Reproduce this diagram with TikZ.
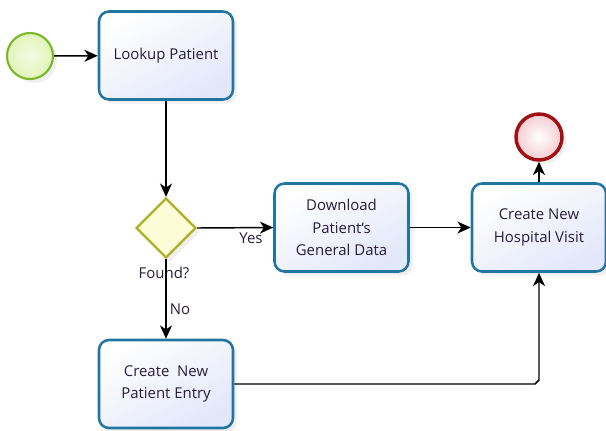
\documentclass[tikz,border=0pt]{standalone}
\usepackage{fontspec}
\setmainfont{Open Sans}
\usetikzlibrary{shapes.geometric,arrows.meta,shadows}
\definecolor{taskborder}{RGB}{32,118,160}
\definecolor{taskfill}{RGB}{226,231,250}
\definecolor{gwborder}{RGB}{176,176,40}
\definecolor{gwfill}{RGB}{252,252,214}
\definecolor{stborder}{RGB}{122,184,40}
\definecolor{stfill}{RGB}{226,244,186}
\definecolor{endborder}{RGB}{160,16,20}
\definecolor{endfill}{RGB}{244,204,208}
\definecolor{txt}{RGB}{40,28,58}
\tikzset{
  task/.style={rectangle, rounded corners=7.5pt, draw=taskborder, line width=1.9pt,
    top color=white, bottom color=taskfill, shading angle=30,
    minimum width=100.5pt, minimum height=66pt, align=center, text=txt,
    font=\fontsize{11.2}{17}\selectfont,
    drop shadow={opacity=0.12, shadow xshift=3pt, shadow yshift=-3pt}},
  gateway/.style={diamond, draw=gwborder, line width=1.7pt, fill=gwfill,
    minimum width=45pt, minimum height=45pt, inner sep=0pt,
    drop shadow={opacity=0.12, shadow xshift=3pt, shadow yshift=-3pt}},
  startev/.style={circle, draw=stborder, line width=1.6pt, inner color=stfill!40, outer color=stfill,
    minimum size=34.5pt, inner sep=0pt,
    drop shadow={opacity=0.12, shadow xshift=3pt, shadow yshift=-3pt}},
  endev/.style={circle, draw=endborder, line width=2.6pt, inner color=white, outer color=endfill,
    minimum size=34.5pt, inner sep=0pt,
    drop shadow={opacity=0.12, shadow xshift=3pt, shadow yshift=-3pt}},
  flow/.style={line width=1.1pt, -{Stealth[length=10pt,width=9pt,inset=3pt]}},
  lbl/.style={text=txt, font=\fontsize{11.2}{13}\selectfont, inner sep=0pt}
}
\begin{document}
\begin{tikzpicture}[x=0.75pt,y=-0.75pt]
\useasboundingbox (0,0) rectangle (606,430);
\node[startev] (start) at (30,56) {};
\node[task] (lookup) at (166,55.5) {Lookup Patient};
\node[task] (dl) at (341.5,227.5) {Download\\Patient\symbol{96}s\\General Data};
\node[task] (hv) at (539,227.5) {Create New\\Hospital Visit};
\node[task] (pe) at (166,384) {Create~~New\\Patient Entry};
\node[gateway] (gw) at (166,228) {};
\node[endev] (end) at (539,137) {};
\node[lbl] (found) at (164,273) {Found?};
\node[lbl] (yes) at (251,238) {Yes};
\node[lbl] (no) at (180,309) {No};
\coordinate (corner) at (hv.south |- pe.east);
\draw[flow] (start) -- (lookup);
\draw[flow] (lookup) -- (gw);
\draw[flow] (gw.east) -- (dl.west);
\draw[flow] (gw.south) -- (pe.north);
\draw[flow] (dl) -- (hv);
\draw[flow] (hv) -- (end);
\draw[flow] (pe.east) -- ([xshift=-3pt]corner) -- ([yshift=3pt]corner) -- (hv.south);
\end{tikzpicture}
\end{document}
